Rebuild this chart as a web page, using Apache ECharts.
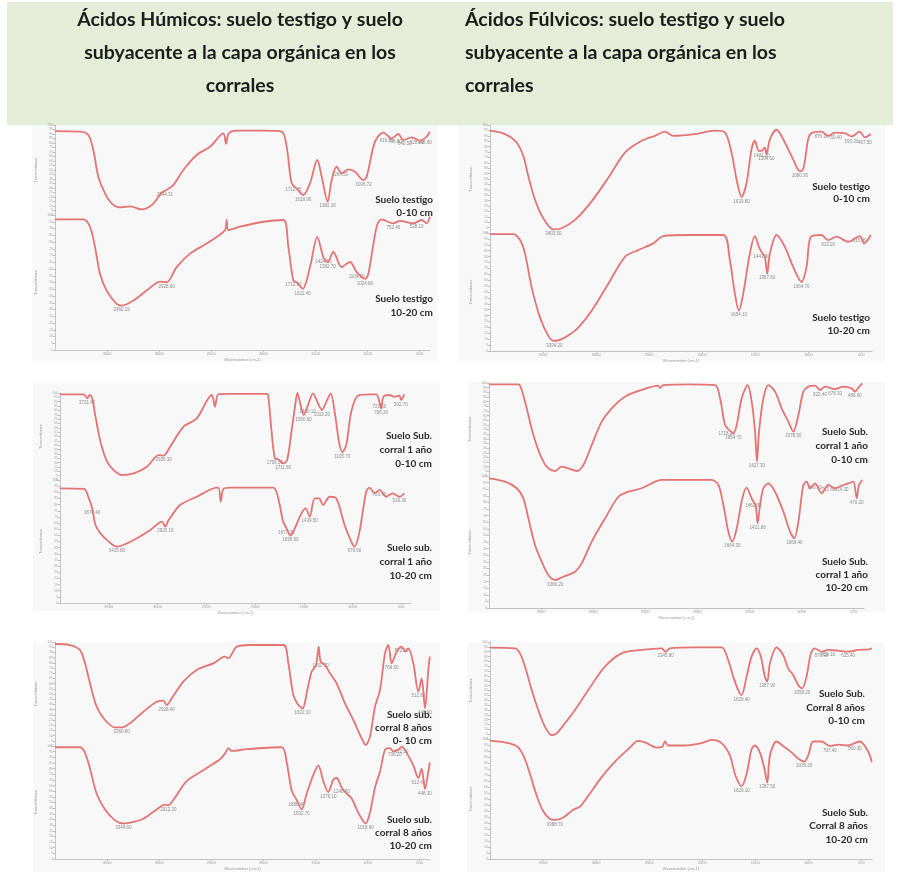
<!DOCTYPE html>
<html>
<head>
<meta charset="utf-8">
<script src="https://cdn.jsdelivr.net/npm/echarts@6/dist/echarts.min.js"></script>
<style>
  html, body { margin: 0; padding: 0; background: #ffffff; }
  #chart { width: 900px; height: 872px; }
</style>
</head>
<body>
<div id="chart"></div>
<script>
// ---- Column titles ----
const titleHumicos = ['Ácidos Húmicos: suelo testigo y suelo', 'subyacente a la capa orgánica en los', 'corrales'];
const titleFulvicos = ['Ácidos Fúlvicos: suelo testigo y suelo', 'subyacente a la capa orgánica en los', 'corrales'];

// ---- Axis settings ----
const xMin = 400, xMax = 4000;
const xTickValues = [500, 1000, 1500, 2000, 2500, 3000, 3500];
const xAxisName = 'Wavenumber (cm-1)';
const yAxisName = 'Transmittance';

// ---- Spectrum captions ----
const capHaTestigo010 = 'Suelo testigo\n0-10 cm';
const capHaTestigo1020 = 'Suelo testigo\n10-20 cm';
const capFaTestigo010 = 'Suelo testigo\n0-10 cm';
const capFaTestigo1020 = 'Suelo testigo\n10-20 cm';
const capHaC1_010 = 'Suelo Sub.\ncorral 1 año\n0-10 cm';
const capHaC1_1020 = 'Suelo sub.\ncorral 1 año\n10-20 cm';
const capFaC1_010 = 'Suelo Sub.\ncorral 1 año\n0-10 cm';
const capFaC1_1020 = 'Suelo Sub.\ncorral 1 año\n10-20 cm';
const capHaC8_010 = 'Suelo sub.\ncorral 8 años\n0- 10 cm';
const capHaC8_1020 = 'Suelo sub.\ncorral 8 años\n10-20 cm';
const capFaC8_010 = 'Suelo Sub.\nCorral 8 años\n0-10 cm';
const capFaC8_1020 = 'Suelo Sub.\nCorral 8 años\n10-20 cm';

// ---- Spectra: [wavenumber cm-1, %T] ----
const haTestigo010 = [[4000,93.3],[3760,92.6],[3680,88.9],[3632,72.2],[3584,42.6],[3520,24],[3456,13],[3376,8.5],[3280,9.6],[3168,6.3],[3072,11],[2976,24.8],[2944,27],[2864,33.3],[2768,50],[2640,66.7],[2512,75.9],[2384,90.7],[2358,78.9],[2333,90.5],[2256,93.7],[2000,93.7],[1824,92.6],[1776,75.9],[1728,35.2],[1680,29.6],[1616,22.2],[1552,35.2],[1482,61.1],[1440,42.6],[1382,14.8],[1344,38.9],[1296,53.7],[1248,46.3],[1184,50.7],[1120,48.1],[1040,38.9],[1008,42.6],[928,81.5],[848,91.5],[768,85.2],[704,90],[656,83.3],[576,86.3],[496,82.6],[432,87],[402,92.6]];
const haTestigo1020 = [[4000,96.8],[3728,96.8],[3664,91.3],[3616,76.4],[3568,56.5],[3504,44],[3408,34.1],[3360,32.8],[3248,36.6],[3120,44],[2992,50.7],[2928,50.2],[2832,61.4],[2704,71.4],[2544,78.9],[2368,88.8],[2352,96.3],[2336,88.8],[2224,91.3],[2000,95],[1808,96.3],[1760,76.4],[1712,51.5],[1680,50.2],[1622,45.3],[1552,61.4],[1482,83.8],[1424,68.9],[1382,65.2],[1328,72.6],[1248,61.4],[1168,65.2],[1104,57.7],[1024,52.7],[992,56.5],[912,91.3],[864,96.8],[752,93.8],[688,95.7],[560,93.8],[480,96.3],[432,93.8],[402,98.8]];
const faTestigo010 = [[4000,94.7],[3859,91.6],[3749,83.8],[3686,71.3],[3639,52.6],[3576,30.8],[3498,13.7],[3403,3.4],[3325,4.4],[3199,12.1],[3042,29.3],[2885,51.1],[2728,74.5],[2571,85.4],[2446,90],[2352,93.8],[2273,90],[2069,91.6],[1880,94.7],[1786,93.1],[1724,74.5],[1676,49.5],[1629,33.3],[1582,46.4],[1535,77.6],[1504,85.4],[1466,76],[1441,76],[1410,79],[1394,72.9],[1362,86.9],[1300,95.6],[1221,83.8],[1143,68.2],[1080,57.3],[1048,58.9],[1001,86.9],[970,92.5],[876,93.8],[813,90],[750,93],[656,92.5],[593,89.4],[515,93.8],[467,88.5],[411,91.6]];
const faTestigo1020 = [[4000,99.1],[3780,99.1],[3717,94],[3670,82.6],[3608,54.1],[3529,28.5],[3450,12.8],[3394,8.5],[3325,10],[3246,14.2],[3168,19.9],[3042,34.2],[2885,57],[2728,79.8],[2603,85.5],[2461,91.2],[2367,97.4],[2132,98.3],[1802,98.3],[1739,76.9],[1692,48.4],[1654,34.2],[1614,48.4],[1551,82.6],[1504,97.4],[1466,88.3],[1441,84],[1410,79.8],[1387,65.5],[1362,82.6],[1300,98.3],[1221,88.3],[1143,71.2],[1064,58.4],[1017,71.2],[976,96.9],[876,98.3],[813,94],[734,96.9],[625,92.6],[515,97.4],[474,91.2],[411,98.3]];
const haC1_010 = [[4000,98.5],[3755,98.5],[3721,93.9],[3694,97.7],[3670,93.9],[3636,72.8],[3585,44.1],[3517,21.1],[3432,9.6],[3364,5.7],[3244,7.7],[3108,15.3],[2989,28.7],[2938,28],[2870,38.3],[2733,61.3],[2597,70.9],[2444,97.7],[2410,84.3],[2376,98.5],[2256,98.9],[1882,98.9],[1865,97.7],[1830,55.6],[1796,24.9],[1762,23.8],[1711,19.2],[1670,23],[1626,55.6],[1592,82.4],[1565,100],[1541,90.4],[1500,74.7],[1456,86.2],[1405,99.6],[1354,88.1],[1313,80.5],[1268,90],[1224,99.6],[1183,78.5],[1139,44.1],[1105,31.8],[1064,40.2],[1013,78.5],[945,96.9],[825,98.5],[757,98.5],[723,89.7],[706,82.1],[682,95.8],[621,97.7],[570,95.8],[519,96.9],[502,92],[468,98.5]];
const haC1_1020 = [[4000,93.2],[3755,92.7],[3704,85.1],[3670,77],[3636,63.4],[3585,56.6],[3500,49.9],[3415,45.8],[3312,48.5],[3210,52.6],[3074,59.3],[2955,66.1],[2920,62.1],[2887,67.2],[2767,79.7],[2597,86.4],[2444,92.7],[2376,93.8],[2352,82.4],[2324,92.7],[2256,93.8],[1813,93.8],[1762,85.1],[1711,66.1],[1677,60.7],[1636,54.7],[1592,60.7],[1524,72.9],[1480,77],[1439,70.2],[1388,85.1],[1343,85.1],[1302,79.7],[1234,86.4],[1166,85.1],[1081,63.4],[1013,49.9],[979,45.8],[928,58],[860,90.5],[825,93.8],[774,89.2],[723,91.9],[655,86.4],[587,89.2],[519,86.4],[468,89.2]];
const faC1_010 = [[4000,98.6],[3718,98.6],[3686,92.5],[3638,72.8],[3574,44.1],[3494,19],[3430,8.2],[3366,5.4],[3302,10],[3238,8.2],[3158,5.4],[3094,11.8],[3014,33.3],[2918,58.4],[2822,72.8],[2694,85.3],[2534,92.5],[2374,97.1],[2358,94.6],[2326,97.8],[2086,98.6],[1830,97.8],[1782,83.5],[1734,54.8],[1696,49.5],[1654,45.9],[1622,54.8],[1574,83.5],[1517,97.8],[1478,79.9],[1446,47.7],[1427,15.4],[1408,47.7],[1366,83.5],[1318,97.8],[1254,90.7],[1190,72.8],[1126,58.4],[1078,47.7],[1030,65.6],[982,90.7],[934,96.1],[870,97.1],[822,92.5],[774,96.1],[678,93.5],[598,96.1],[518,94.3],[486,90.7],[454,95],[416,99.6]];
const faC1_1020 = [[4000,98.2],[3846,95.7],[3734,90.7],[3670,83.1],[3622,67.9],[3558,47.7],[3494,35.1],[3430,25],[3366,21.2],[3286,23.7],[3174,27.5],[3110,33.8],[3014,50.3],[2886,67.9],[2758,84.3],[2662,88.1],[2534,90.7],[2406,95.7],[2342,97],[2086,97],[1862,97],[1798,93.2],[1750,78],[1702,57.8],[1664,50.3],[1622,60.4],[1568,83.1],[1526,91.2],[1485,84.3],[1462,80.6],[1440,78],[1421,64.1],[1398,78],[1366,90.7],[1318,94.4],[1254,88.1],[1174,73],[1110,57.8],[1069,52.8],[1030,65.4],[982,93.2],[950,95.7],[918,90.7],[870,94.4],[806,86.9],[742,93.2],[678,90.7],[614,92.7],[550,94.4],[502,95.7],[470,83.1],[448,93.2],[416,97]];
const haC8_010 = [[4000,98.1],[3856,97.1],[3760,92.3],[3712,79.5],[3664,60.3],[3600,37.8],[3520,25],[3424,17.9],[3360,17.9],[3280,21.8],[3152,33],[3024,42.6],[2960,43.6],[2928,39.4],[2880,45.8],[2768,61.9],[2640,73.1],[2480,79.5],[2368,85.9],[2336,84.3],[2256,95.5],[2128,97.1],[1808,97.1],[1760,79.5],[1712,49],[1664,39.4],[1622,36.2],[1578,53.8],[1536,71.5],[1494,77.9],[1469,95.5],[1450,81.1],[1408,77.9],[1360,69.9],[1296,60.3],[1216,41],[1136,25],[1056,7.4],[1018,1],[976,9],[928,37.8],[880,53.8],[832,89.1],[800,97.1],[768,79.5],[720,90.7],[672,95.5],[640,90.7],[608,93.9],[560,79.5],[512,52.2],[480,65],[448,36.2],[416,73.1],[402,85.9]];
const haC8_1020 = [[4000,98.9],[3760,98.9],[3712,93.9],[3664,80],[3600,57.8],[3520,43.9],[3424,34.2],[3344,31.4],[3248,32.8],[3152,35.6],[3024,43.9],[2944,48.1],[2912,47.5],[2864,52.2],[2736,68.9],[2576,78.6],[2416,88.3],[2368,93.3],[2336,98.1],[2304,95.6],[2160,97.2],[1824,98.9],[1776,85.6],[1728,60.6],[1680,52.2],[1632,43.9],[1584,57.8],[1520,74.4],[1472,82.8],[1424,68.9],[1376,59.2],[1328,70.3],[1296,71.7],[1248,63.3],[1200,57.8],[1152,53.6],[1104,43.9],[1056,35.6],[1018,31.4],[976,41.1],[928,63.3],[880,77.2],[832,96.7],[784,98.1],[752,95.3],[704,96.7],[672,99.4],[624,93.9],[560,82.8],[512,71.7],[480,80],[448,61.9],[416,77.2],[402,85.6]];
const faC8_010 = [[4000,94.2],[3765,93.5],[3717,88.3],[3670,74.6],[3607,50.5],[3545,29.9],[3482,12.7],[3419,4.1],[3372,5.8],[3294,16.2],[3199,29.9],[3074,50.5],[2917,74.6],[2760,88.3],[2571,91.8],[2383,93.5],[2345,90],[2304,93.5],[2069,94.5],[1818,94.5],[1755,81.4],[1708,64.3],[1661,50.5],[1629,45.4],[1582,64.3],[1535,84.9],[1488,93.5],[1447,84.9],[1410,64.3],[1387,59.1],[1362,78],[1300,94.5],[1237,86.6],[1190,72.9],[1143,66],[1095,55.7],[1058,52.2],[1017,64.3],[976,88.3],[939,93.5],[876,90],[813,91.8],[719,91.1],[625,90],[530,91.8],[436,92.4],[402,93.5]];
const faC8_1020 = [[4000,98.7],[3859,97.2],[3749,94.1],[3686,86.3],[3623,70.8],[3560,52.7],[3498,39.8],[3435,33.3],[3388,32.6],[3309,34.6],[3215,41.1],[3152,43.7],[3074,52.7],[2948,68.2],[2822,81.1],[2697,91.5],[2603,98.4],[2524,96.6],[2430,92.8],[2377,93.5],[2351,97.9],[2320,94.6],[2163,94.6],[2006,96.6],[1912,99.2],[1818,96.6],[1739,86.3],[1692,70.8],[1654,63],[1629,60.5],[1582,70.8],[1535,91.5],[1504,94.6],[1457,88.9],[1416,76],[1387,63.6],[1362,86.3],[1300,97.9],[1237,94.1],[1158,88.9],[1095,83.7],[1039,81.1],[1001,86.3],[954,97.9],[876,97.9],[797,94.1],[719,95.3],[625,94.6],[515,97.9],[467,94.1],[420,86.3],[402,80.6]];

// ---- Peak annotations: [wavenumber cm-1, %T] ----
const pkHaTestigo010 = [[2944.31,27],[1712.45,33],[1618.9,22.2],[1382.16,14.8],[1264.5,50],[1036.72,39],[816.3,88],[736.8,86],[640.5,84],[528.2,85],[448.6,85]];
const pkHaTestigo1020 = [[3360.19,32.8],[2928.6,50.2],[1712.3,51.5],[1622.4,45.3],[1424.1,68.9],[1382.7,65.2],[1104.5,57.7],[1024.8,52.7],[752.4,93.8],[528.1,94.5]];
const pkFaTestigo010 = [[3403.5,3.4],[1629.8,33.3],[1441.2,76],[1394.6,72.9],[1080.3,57.3],[876.1,93],[750.4,92],[593.2,89],[467.5,88]];
const pkFaTestigo1020 = [[3394.2,8.5],[1654.1,34.2],[1441.3,84],[1387.6,65.5],[1064.7,58.4],[813.2,94],[515.8,97]];
const pkHaC1_010 = [[3721.4,93.9],[2938.3,28],[1796.5,24.9],[1711.8,19.2],[1500.6,74.7],[1460.1,84],[1313.2,80.5],[1105.7,31.8],[723.5,89.7],[706.2,82.1],[502.7,92]];
const pkHaC1_1020 = [[3670.4,77],[3415.8,45.8],[2920.1,62.1],[1677.3,60.7],[1636.9,54.7],[1439.5,70.2],[979.6,45.8],[723.4,91.9],[519.3,86.4]];
const pkFaC1_010 = [[1718.2,50],[1654.7,45.9],[1427.3,15.4],[1078.5,47.7],[822.4,92.5],[678.3,93.5],[486.6,90.7]];
const pkFaC1_1020 = [[3366.2,21.2],[1664.3,50.3],[1462.5,80.6],[1421.8,64.1],[1069.4,52.8],[870.1,94.4],[742.6,93.2],[614.3,92.7],[470.2,83.1]];
const pkHaC8_010 = [[3360.8,17.9],[2928.4,39.4],[1622.1,36.2],[1450.3,81.1],[768.5,79.5],[672.2,95.5],[512.6,52.2],[448.9,36.2]];
const pkHaC8_1020 = [[3344.6,31.4],[2912.2,47.5],[1680.4,52.2],[1632.7,43.9],[1376.1,59.2],[1248.3,63.3],[1018.9,31.4],[736.2,96],[672.5,99],[512.4,71.7],[448.3,61.9]];
const pkFaC8_010 = [[2345.8,90],[1629.4,45.4],[1387.9,59.1],[1058.2,52.2],[876.3,90],[813.1,91.8],[625.4,90]];
const pkFaC8_1020 = [[3388.7,32.6],[1629.1,60.5],[1387.5,63.6],[1039.2,81.1],[797.4,94.1],[560.3,96]];

// ---- Page layout: six panels, each holding two stacked spectra ----
const layout = [
  { bg: [32, 125, 406, 236], left: 55, width: 375, parts: [
    { top: 125, height: 90, data: haTestigo010, peaks: pkHaTestigo010, cap: capHaTestigo010, capX: 433, capY: 193.8, lh: 12.5 },
    { top: 215, height: 135, data: haTestigo1020, peaks: pkHaTestigo1020, cap: capHaTestigo1020, capX: 433, capY: 292.5, lh: 13.5 } ] },
  { bg: [458, 125, 427, 236], left: 490, width: 382, parts: [
    { top: 125, height: 108, data: faTestigo010, peaks: pkFaTestigo010, cap: capFaTestigo010, capX: 870, capY: 180.5, lh: 12.5 },
    { top: 233, height: 118, data: faTestigo1020, peaks: pkFaTestigo1020, cap: capFaTestigo1020, capX: 870, capY: 312, lh: 12.5 } ] },
  { bg: [33, 383, 407, 228], left: 60, width: 351, parts: [
    { top: 393, height: 87, data: haC1_010, peaks: pkHaC1_010, cap: capHaC1_010, capX: 432, capY: 428.7, lh: 14 },
    { top: 480, height: 123, data: haC1_1020, peaks: pkHaC1_1020, cap: capHaC1_1020, capX: 432, capY: 540.7, lh: 14 } ] },
  { bg: [468, 382, 417, 230], left: 489, width: 375, parts: [
    { top: 383, height: 93, data: faC1_010, peaks: pkFaC1_010, cap: capFaC1_010, capX: 868, capY: 424.7, lh: 14 },
    { top: 476, height: 132, data: faC1_1020, peaks: pkFaC1_1020, cap: capFaC1_1020, capX: 868, capY: 555.2, lh: 13 } ] },
  { bg: [33, 642, 407, 230], left: 55, width: 375, parts: [
    { top: 642, height: 104, data: haC8_010, peaks: pkHaC8_010, cap: capHaC8_010, capX: 432, capY: 708.5, lh: 13 },
    { top: 746, height: 120, data: haC8_1020, peaks: pkHaC8_1020, cap: capHaC8_1020, capX: 432, capY: 812.8, lh: 13 } ] },
  { bg: [467, 642, 418, 230], left: 490, width: 382, parts: [
    { top: 642, height: 97, data: faC8_010, peaks: pkFaC8_010, cap: capFaC8_010, capX: 865, capY: 687.5, lh: 13.3 },
    { top: 739, height: 129, data: faC8_1020, peaks: pkFaC8_1020, cap: capFaC8_1020, capX: 868, capY: 806.2, lh: 13.3 } ] }
];

const FONT = 'Lato, "Open Sans", sans-serif';
const grids = [], xAxes = [], yAxes = [], series = [], graphics = [];

// header band and titles
graphics.push({ type: 'rect', z: -20, shape: { x: 7, y: 2, width: 886, height: 123 }, style: { fill: '#e3edd8' } });
const titleY = [20, 53, 86];
titleHumicos.forEach((t, i) => graphics.push({ type: 'text', z: 50, style: {
  text: t, x: 240, y: titleY[i], align: 'center', verticalAlign: 'middle',
  font: 'bold 19.5px ' + FONT, fill: '#1c1c1c' } }));
titleFulvicos.forEach((t, i) => graphics.push({ type: 'text', z: 50, style: {
  text: t, x: 465, y: titleY[i], align: 'left', verticalAlign: 'middle',
  font: 'bold 19.5px ' + FONT, fill: '#1c1c1c' } }));

layout.forEach(p => {
  graphics.push({ type: 'rect', z: -20, shape: { x: p.bg[0], y: p.bg[1], width: p.bg[2], height: p.bg[3] }, style: { fill: '#f8f8f8' } });
  p.parts.forEach((part, k) => {
    const gi = grids.length;
    const isBottom = k === 1;
    grids.push({ left: p.left, width: p.width, top: part.top, height: part.height });
    xAxes.push({
      gridIndex: gi, type: 'value', min: xMin, max: xMax, inverse: true, show: isBottom,
      axisLine: { show: true, lineStyle: { color: '#c2c2c2', width: 1 } },
      axisTick: { show: true, length: 2, lineStyle: { color: '#bdbdbd' }, customValues: xTickValues },
      axisLabel: { fontSize: 4, color: '#9a9a9a', margin: 2, customValues: xTickValues,
        formatter: v => String(v) },
      splitLine: { show: false },
      name: xAxisName, nameLocation: 'middle', nameGap: 8,
      nameTextStyle: { fontSize: 4, color: '#9a9a9a' }
    });
    yAxes.push({
      gridIndex: gi, type: 'value', min: 0, max: 100, interval: 5,
      axisLine: { show: true, lineStyle: { color: '#c2c2c2' } },
      axisTick: { show: true, length: 2, lineStyle: { color: '#bdbdbd' } },
      axisLabel: { fontSize: 3.5, color: '#a8a8a8', margin: 2 },
      splitLine: { show: false },
      name: yAxisName, nameLocation: 'middle', nameGap: 17, nameRotate: 90,
      nameTextStyle: { fontSize: 4, color: '#9a9a9a' }
    });
    series.push({
      type: 'line', xAxisIndex: gi, yAxisIndex: gi, data: part.data,
      showSymbol: false, smooth: 0.3, silent: true,
      lineStyle: { color: '#e27474', width: 1.8 }
    });
    series.push({
      type: 'scatter', xAxisIndex: gi, yAxisIndex: gi, data: part.peaks,
      symbolSize: 0, silent: true,
      label: { show: true, position: 'bottom', distance: 2, fontSize: 4.5, color: '#6e6e6e',
        formatter: d => d.value[0].toFixed(2) }
    });
    graphics.push({ type: 'text', z: 50, style: {
      text: part.cap, x: part.capX, y: part.capY, align: 'right', verticalAlign: 'top',
      font: 'bold 10px ' + FONT, lineHeight: part.lh, fill: '#2a2a2a' } });
  });
});

const chart = echarts.init(document.getElementById('chart'), null, { renderer: 'canvas' });
chart.setOption({
  backgroundColor: '#ffffff',
  animation: false,
  grid: grids,
  xAxis: xAxes,
  yAxis: yAxes,
  series: series,
  graphic: { elements: graphics }
});
</script>
</body>
</html>
